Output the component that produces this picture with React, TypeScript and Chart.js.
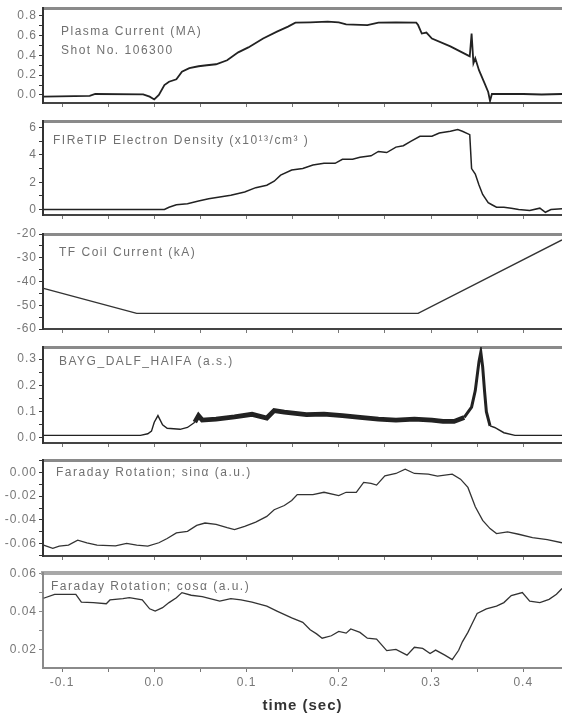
import React, { useEffect, useRef } from "react";
import { Chart, registerables } from "chart.js";
Chart.register(...registerables);
Chart.defaults.font.family = "'Liberation Sans', Arial, sans-serif";

// ---------------- data ----------------
const xTickLabels = ["-0.1", "0.0", "0.1", "0.2", "0.3", "0.4"];

// Plasma current (MA)
const ipT = [-0.12, -0.07, -0.064, -0.012, -0.005, 0.0, 0.005, 0.011, 0.016, 0.024, 0.03, 0.038, 0.048, 0.057, 0.067, 0.079, 0.091, 0.102, 0.118, 0.133, 0.145, 0.153, 0.169, 0.188, 0.2, 0.208, 0.231, 0.243, 0.262, 0.284, 0.286, 0.29, 0.295, 0.301, 0.321, 0.34, 0.342, 0.344, 0.346, 0.348, 0.352, 0.358, 0.362, 0.364, 0.366, 0.4, 0.42, 0.442];
const ipV = [-0.017, -0.01, 0.01, 0.007, -0.017, -0.045, 0.0, 0.1, 0.134, 0.158, 0.235, 0.27, 0.29, 0.3, 0.31, 0.35, 0.43, 0.48, 0.57, 0.64, 0.69, 0.73, 0.733, 0.74, 0.733, 0.713, 0.706, 0.73, 0.733, 0.73, 0.706, 0.62, 0.63, 0.57, 0.49, 0.4, 0.39, 0.62, 0.32, 0.37, 0.25, 0.12, 0.03, -0.06, 0.01, 0.01, 0.005, 0.01];
const ipTickLabels = ["0.0", "0.2", "0.4", "0.6", "0.8"];

// FIReTIP electron density
const neT = [-0.12, 0.011, 0.016, 0.024, 0.036, 0.048, 0.059, 0.071, 0.083, 0.098, 0.11, 0.122, 0.13, 0.137, 0.149, 0.161, 0.172, 0.184, 0.196, 0.204, 0.215, 0.223, 0.235, 0.243, 0.252, 0.262, 0.27, 0.278, 0.288, 0.301, 0.309, 0.321, 0.329, 0.334, 0.342, 0.344, 0.348, 0.352, 0.356, 0.362, 0.366, 0.371, 0.379, 0.387, 0.395, 0.407, 0.418, 0.424, 0.43, 0.442];
const neV = [0, 0, 0.17, 0.35, 0.42, 0.62, 0.79, 0.91, 1.04, 1.28, 1.6, 1.78, 2.07, 2.52, 2.89, 3.01, 3.26, 3.38, 3.38, 3.68, 3.68, 3.83, 3.93, 4.25, 4.17, 4.57, 4.67, 4.99, 5.36, 5.36, 5.6, 5.73, 5.85, 5.73, 5.48, 3.0, 2.6, 1.8, 1.1, 0.5, 0.35, 0.17, 0.17, 0.1, 0, -0.07, 0.1, -0.2, 0, 0.05];
const neTickLabels = ["0", "2", "4", "6"];

// TF coil current (kA)
const tfT = [-0.12, -0.019, 0.286, 0.442];
const tfV = [-42.9, -53.4, -53.4, -22.5];
const tfTickLabels = ["-20", "-30", "-40", "-50", "-60"];

// BAYG_DALF_HAIFA
const bT = [-0.12, -0.015, -0.007, -0.003, 0.0, 0.004, 0.009, 0.014, 0.028, 0.036, 0.044, 0.048, 0.052, 0.067, 0.087, 0.106, 0.122, 0.13, 0.141, 0.165, 0.184, 0.204, 0.223, 0.243, 0.262, 0.282, 0.301, 0.313, 0.325, 0.336, 0.344, 0.348, 0.352, 0.354, 0.356, 0.358, 0.36, 0.364, 0.369, 0.379, 0.391, 0.442];
const bV = [0.01, 0.01, 0.016, 0.026, 0.06, 0.085, 0.05, 0.037, 0.033, 0.04, 0.06, 0.085, 0.068, 0.072, 0.08, 0.09, 0.076, 0.104, 0.098, 0.089, 0.091, 0.085, 0.078, 0.072, 0.068, 0.072, 0.068, 0.063, 0.063, 0.078, 0.117, 0.18, 0.29, 0.326, 0.27, 0.18, 0.1, 0.046, 0.04, 0.02, 0.01, 0.01];
const bTickLabels = ["0.0", "0.1", "0.2", "0.3"];

// Faraday rotation sin
const sT = [-0.12, -0.11, -0.103, -0.093, -0.083, -0.073, -0.062, -0.042, -0.03, -0.019, -0.007, 0.005, 0.014, 0.024, 0.036, 0.046, 0.055, 0.067, 0.079, 0.087, 0.098, 0.11, 0.122, 0.13, 0.141, 0.149, 0.155, 0.172, 0.184, 0.2, 0.208, 0.219, 0.227, 0.235, 0.241, 0.25, 0.262, 0.272, 0.282, 0.297, 0.307, 0.323, 0.332, 0.34, 0.348, 0.356, 0.364, 0.371, 0.383, 0.395, 0.41, 0.426, 0.442];
const sV = [-0.0614, -0.0642, -0.0622, -0.0614, -0.0572, -0.0594, -0.0614, -0.062, -0.06, -0.0614, -0.0622, -0.0594, -0.0558, -0.051, -0.0497, -0.0447, -0.0427, -0.0438, -0.0466, -0.0483, -0.0455, -0.0419, -0.0371, -0.0315, -0.0279, -0.0237, -0.0187, -0.0187, -0.0167, -0.0195, -0.0167, -0.0167, -0.0084, -0.0092, -0.0106, -0.0028, -0.0008, 0.0028, -0.0008, -0.0014, -0.0031, -0.0014, -0.0056, -0.0126, -0.029, -0.0405, -0.0474, -0.0516, -0.0502, -0.0522, -0.055, -0.0567, -0.0594];
const sTickLabels = ["0.00", "-0.02", "-0.04", "-0.06"];

// Faraday rotation cos
const cT = [-0.12, -0.108, -0.085, -0.079, -0.066, -0.052, -0.048, -0.034, -0.027, -0.013, -0.005, 0.001, 0.009, 0.016, 0.024, 0.03, 0.04, 0.052, 0.071, 0.083, 0.094, 0.106, 0.122, 0.133, 0.149, 0.161, 0.169, 0.176, 0.182, 0.192, 0.2, 0.208, 0.213, 0.223, 0.231, 0.241, 0.252, 0.262, 0.274, 0.282, 0.291, 0.299, 0.305, 0.315, 0.323, 0.33, 0.334, 0.34, 0.344, 0.35, 0.36, 0.371, 0.379, 0.387, 0.399, 0.407, 0.418, 0.428, 0.436, 0.442];
const cV = [0.0471, 0.0492, 0.0492, 0.0451, 0.0448, 0.0442, 0.0462, 0.0469, 0.0474, 0.0462, 0.0415, 0.0403, 0.0421, 0.0448, 0.0474, 0.0501, 0.0487, 0.048, 0.0456, 0.0469, 0.0462, 0.0451, 0.0429, 0.0403, 0.0367, 0.0343, 0.0304, 0.0282, 0.0259, 0.0272, 0.0295, 0.0286, 0.0308, 0.029, 0.0259, 0.0254, 0.0193, 0.02, 0.0169, 0.0211, 0.0205, 0.0178, 0.0196, 0.0169, 0.0146, 0.0195, 0.024, 0.029, 0.033, 0.039, 0.0415, 0.0429, 0.0448, 0.0485, 0.0501, 0.0456, 0.0448, 0.0465, 0.0492, 0.0523];
const cTickLabels = ["0.02", "0.04", "0.06"];

// ---------------- layout ----------------
const W = 562;
const XMIN = -0.1206;
const XMAX = 0.442;
const PAD_TOP = 10;
const YAXIS_W = 43;

type Panel = {
  t: number[];
  v: number[];
  tickLabels: string[];
  top: number;
  bottom: number;
  yMin: number;
  yMax: number;
  minorStep: number;
  notes: { text: string; x: number; y: number }[];
  last?: boolean;
  lineWidth: number;
  lineColor: string;
  noisy?: boolean;
};

const panels: Panel[] = [
  { t: ipT, v: ipV, tickLabels: ipTickLabels, top: 8, bottom: 103, yMin: -0.081, yMax: 0.878, minorStep: 0.1,
    notes: [{ text: "Plasma Current (MA)", x: 61, y: 32 }, { text: "Shot No. 106300", x: 61, y: 51 }], lineWidth: 1.8, lineColor: "#222" },
  { t: neT, v: neV, tickLabels: neTickLabels, top: 121, bottom: 215, yMin: -0.4, yMax: 6.48, minorStep: 1,
    notes: [{ text: "FIReTIP Electron Density (x10\u00B9\u00B3/cm\u00B3 )", x: 53, y: 141 }], lineWidth: 1.5, lineColor: "#222" },
  { t: tfT, v: tfV, tickLabels: tfTickLabels, top: 234, bottom: 329, yMin: -60, yMax: -20, minorStep: 5,
    notes: [{ text: "TF Coil Current (kA)", x: 59, y: 253 }], lineWidth: 1.4, lineColor: "#333" },
  { t: bT, v: bV, tickLabels: bTickLabels, top: 347, bottom: 443, yMin: -0.019, yMax: 0.3456, minorStep: 0.05,
    notes: [{ text: "BAYG_DALF_HAIFA (a.s.)", x: 59, y: 362 }], lineWidth: 1.4, lineColor: "#222", noisy: true },
  { t: sT, v: sV, tickLabels: sTickLabels, top: 460, bottom: 556, yMin: -0.0706, yMax: 0.0106, minorStep: 0.01,
    notes: [{ text: "Faraday Rotation; sin\u03B1 (a.u.)", x: 56, y: 473 }], lineWidth: 1.3, lineColor: "#333" },
  { t: cT, v: cV, tickLabels: cTickLabels, top: 573, bottom: 668, yMin: 0.0101, yMax: 0.0605, minorStep: 0.01,
    notes: [{ text: "Faraday Rotation; cos\u03B1 (a.u.)", x: 51, y: 587 }], lineWidth: 1.3, lineColor: "#333", last: true },
];

const notesPlugin = {
  id: "notes",
  beforeDraw(chart: any) {
    (chart.ctx as any).letterSpacing = "1px";
  },
  afterDraw(chart: any, _args: any, opts: any) {
    const ctx = chart.ctx;
    ctx.save();
    (ctx as any).letterSpacing = "1.5px";
    ctx.font = "12px 'Liberation Sans', Arial, sans-serif";
    ctx.fillStyle = "#707070";
    ctx.textBaseline = "middle";
    ctx.textAlign = "left";
    for (const n of opts.lines || []) ctx.fillText(n.text, n.x, n.y - opts.offset);
    ctx.restore();
  },
};

function lookup(labels: string[], value: number, tol: number) {
  const hit = labels.find((l) => Math.abs(parseFloat(l) - value) < tol);
  return hit === undefined ? "" : hit;
}

function PanelChart({ p }: { p: Panel }) {
  const ref = useRef<HTMLCanvasElement>(null);
  const xH = p.last ? 716 - p.bottom : 12;
  const H = p.bottom - p.top + PAD_TOP + xH;
  const canvasTop = p.top - PAD_TOP;
  useEffect(() => {
    const frameDark = p.last ? "#8a8a8a" : "#333";
    const frameBottom = p.last ? "#8a8a8a" : "#444";
    const topColor = p.last ? "#a8a8a8" : "#8a8a8a";
    const chart = new Chart(ref.current as HTMLCanvasElement, {
      type: "line",
      data: {
        datasets: [
          {
            data: p.t.map((t, i) => ({ x: t, y: p.v[i] })),
            borderColor: p.lineColor,
            borderWidth: p.lineWidth,
            pointRadius: 0,
            fill: false,
            tension: 0,
            xAxisID: "x",
            yAxisID: "y",
            segment: p.noisy
              ? {
                  borderWidth: (c: any) => {
                    const a = c.p0.parsed.x;
                    if (a >= 0.044 && a < 0.336) return 4.8;
                    if (a >= 0.336 && a < 0.362) return 3;
                    return 1.4;
                  },
                }
              : undefined,
          } as any,
        ],
      },
      options: {
        responsive: false,
        animation: false,
        devicePixelRatio: 1,
        events: [],
        layout: { padding: { top: PAD_TOP, left: 0, right: 0, bottom: 0 } },
        plugins: {
          legend: { display: false },
          tooltip: { enabled: false },
          notes: { lines: p.notes, offset: canvasTop },
        } as any,
        scales: {
          x: {
            type: "linear",
            position: "bottom",
            min: XMIN,
            max: XMAX,
            border: { display: true, width: 2, color: frameBottom },
            grid: { drawOnChartArea: false, drawTicks: true, tickLength: 4, color: "#777" },
            ticks: {
              display: !!p.last,
              stepSize: 0.05,
              includeBounds: false,
              autoSkip: false,
              maxRotation: 0,
              padding: 3,
              color: "#777",
              font: { size: 12 },
              callback: (v: any) => lookup(xTickLabels, Number(v), 0.001),
            },
            title: {
              display: !!p.last,
              text: "time (sec)",
              color: "#333",
              font: { size: 15, weight: "bold" },
              padding: { top: 0, bottom: 1 },
            },
            afterFit: (s: any) => {
              s.height = xH;
            },
          } as any,
          x2: {
            type: "linear",
            position: "top",
            min: XMIN,
            max: XMAX,
            border: { display: true, width: p.last ? 4 : 3, color: topColor },
            grid: { drawOnChartArea: false, drawTicks: false },
            ticks: { display: false },
            afterFit: (s: any) => {
              s.height = 0;
            },
          } as any,
          y: {
            type: "linear",
            position: "left",
            min: p.yMin,
            max: p.yMax,
            border: { display: true, width: 2, color: frameDark },
            grid: { drawOnChartArea: false, drawTicks: true, tickLength: 4, color: frameDark },
            ticks: {
              stepSize: p.minorStep,
              includeBounds: false,
              autoSkip: false,
              padding: 2,
              color: "#777",
              font: { size: 12 },
              callback: (v: any) => lookup(p.tickLabels, Number(v), p.minorStep * 0.05),
            },
            afterFit: (s: any) => {
              s.width = YAXIS_W;
            },
          } as any,
        },
      },
      plugins: [notesPlugin as any],
    });
    return () => chart.destroy();
  }, []);
  return (
    <canvas
      ref={ref}
      width={W}
      height={H}
      style={{ position: "absolute", left: 0, top: canvasTop, width: W, height: H }}
    />
  );
}

export default function App() {
  return (
    <div style={{ position: "absolute", left: 0, top: 0, width: W, height: 716, background: "#fff", overflow: "hidden" }}>
      {panels.map((p, i) => (
        <PanelChart key={i} p={p} />
      ))}
    </div>
  );
}
